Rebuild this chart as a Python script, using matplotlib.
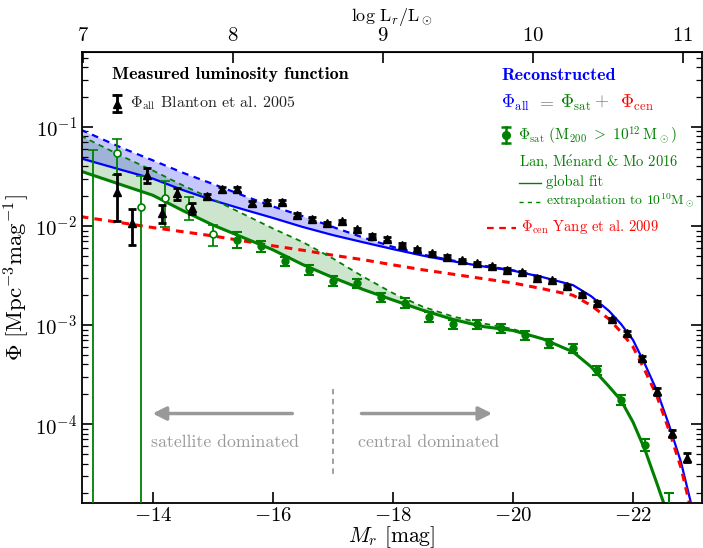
import numpy as np
import matplotlib
matplotlib.use("Agg")
import matplotlib.pyplot as plt
from matplotlib.ticker import NullLocator

plt.rcParams['font.family'] = 'serif'
plt.rcParams['font.serif'] = ['cmr10']
plt.rcParams['mathtext.fontset'] = 'cm'
plt.rcParams['axes.formatter.use_mathtext'] = True

M_SUN = 4.67

# Blanton et al. 2005, all galaxies
m_all = [-13.4, -13.65, -13.9, -14.15, -14.4, -14.65, -14.9, -15.15, -15.4, -15.65,
         -15.9, -16.15, -16.4, -16.65, -16.9, -17.15, -17.4, -17.65, -17.9, -18.15,
         -18.4, -18.65, -18.9, -19.15, -19.4, -19.65, -19.9, -20.15, -20.4, -20.65,
         -20.9, -21.15, -21.4, -21.65, -21.9, -22.15, -22.4, -22.65, -22.9]
phi_all = [0.0222, 0.0106, 0.0327, 0.0135, 0.0214, 0.0151, 0.0200, 0.0234, 0.0234, 0.0170,
           0.0176, 0.0176, 0.0129, 0.0118, 0.0106, 0.0112, 0.0093, 0.0080, 0.0074, 0.00645,
           0.00582, 0.0053, 0.0049, 0.00454, 0.0042, 0.0039, 0.00363, 0.0034, 0.0030, 0.00285,
           0.00245, 0.00205, 0.00168, 0.00114, 0.00083, 0.00046, 0.000215, 0.000081, 0.000046]
err_all = [0.011, 0.0042, 0.0055, 0.0027, 0.003, 0.002, 0.0012, 0.0013, 0.0013, 0.0010,
           0.0009, 0.0009, 0.0006, 0.0005, 0.0004, 0.0004, 0.00035, 0.0003, 0.00028, 0.00024,
           0.0002, 0.00018, 0.00016, 0.00015, 0.00014, 0.00013, 0.00012, 0.00011, 0.0001, 0.0001,
           0.00009, 0.00008, 0.00007, 0.00005, 0.00004, 0.00003, 0.000016, 0.0000065, 0.0000048]

# Lan, Menard & Mo 2016 satellites, faint end (open) and main sample (filled)
m_sat_faint = [-13.0, -13.4, -13.8, -14.2, -14.6, -15.0]
phi_sat_faint = [0.0, 0.0542, 0.0155, 0.019, 0.0155, 0.0083]
err_sat_faint = [0.0586, 0.0215, 0.0165, 0.0092, 0.004, 0.002]

m_sat = [-15.4, -15.8, -16.2, -16.6, -17.0, -17.4, -17.8, -18.2, -18.6, -19.0,
         -19.4, -19.8, -20.2, -20.6, -21.0, -21.4, -21.8, -22.2, -22.6]
phi_sat = [0.0073, 0.0063, 0.0044, 0.0036, 0.0028, 0.00264, 0.0019, 0.00168, 0.00121, 0.00102,
           0.00102, 0.00093, 0.00079, 0.00066, 0.00058, 0.00035, 0.000175, 0.000062, 0.000008]
err_sat = [0.0013, 0.0008, 0.0005, 0.0004, 0.0003, 0.0003, 0.0002, 0.00018, 0.00013, 0.00011,
           0.0001, 0.0001, 0.00008, 0.00007, 0.00006, 0.00004, 0.00002, 0.000009, 0.000012]

# model curves
m_curve = [-12.8, -13.5, -14.0, -14.5, -15.0, -15.5, -16.0, -16.5, -17.0, -17.5,
           -18.0, -18.5, -19.0, -19.5, -20.0, -20.5, -21.0, -21.3, -21.6, -21.8,
           -22.0, -22.2, -22.4, -22.6, -22.8, -23.0]
phi_cen = [0.01242, 0.01072, 0.00964, 0.00875, 0.00794, 0.00708, 0.00631, 0.00569, 0.00507, 0.00457,
           0.00405, 0.00361, 0.00326, 0.00294, 0.00266, 0.00232, 0.00200, 0.00158, 0.00115, 0.000851,
           0.000603, 0.000347, 0.000191, 0.0000871, 0.0000363, 0.0000112]
phi_sat_fit = [0.03573, 0.02576, 0.02042, 0.01429, 0.01023, 0.00767, 0.00575, 0.00407, 0.00302, 0.00229,
               0.00179, 0.00141, 0.00114, 0.000966, 0.000881, 0.000724, 0.000537, 0.00038, 0.00024, 0.000174,
               0.000105, 0.000055, 0.0000251, 0.0000112, 0.000005, 0.000002]
phi_all_fit = [0.04815, 0.03648, 0.03006, 0.02304, 0.01817, 0.01475, 0.01206, 0.00976, 0.00809, 0.00686,
               0.00584, 0.00502, 0.00440, 0.00391, 0.00354, 0.00304, 0.00253, 0.00196, 0.00139, 0.001025,
               0.000708, 0.000402, 0.000216, 0.0000983, 0.0000413, 0.0000132]

m_ext = [-12.8, -13.5, -14.0, -14.5, -15.0, -15.5, -16.0, -16.5, -17.0, -17.5,
         -18.0, -18.5, -19.0, -19.5, -20.0, -20.5]
phi_sat_ext = [0.08128, 0.05012, 0.03631, 0.02570, 0.01862, 0.01327, 0.00944, 0.00687, 0.00470, 0.00309,
               0.00210, 0.00153, 0.00122, 0.00104, 0.000912, 0.000724]
phi_all_ext = [0.0937, 0.06084, 0.04595, 0.03445, 0.02656, 0.02035, 0.01575, 0.01256, 0.00977, 0.00766,
               0.00615, 0.00514, 0.00448, 0.00398, 0.00357, 0.00304]


def ax_pos(px, py):
    return ((px - 82) / 620.0, (503 - py) / 451.0)


fig = plt.figure(figsize=(7.03, 5.48), dpi=100)
ax = fig.add_axes([82 / 703, 45 / 548, 620 / 703, 451 / 548])
ax.set_yscale('log')

n_ext = len(m_ext)
ax.fill_between(m_ext, phi_sat_fit[:n_ext], phi_sat_ext, color='green', alpha=0.2, lw=0, zorder=1)
ax.fill_between(m_ext, phi_all_fit[:n_ext], phi_all_ext, color='blue', alpha=0.22, lw=0, zorder=1)

ax.plot(m_curve, phi_all_fit, color='blue', lw=1.6, zorder=2)
ax.plot(m_ext, phi_all_ext, color='blue', lw=1.6, ls=(0, (3, 2.5)), zorder=2)
ax.plot(m_curve, phi_cen, color='red', lw=2.2, ls=(0, (2.5, 2)), zorder=2)
ax.plot(m_curve, phi_sat_fit, color='green', lw=2.2, zorder=2)
ax.plot(m_ext, phi_sat_ext, color='green', lw=1.3, ls=(0, (3, 2.5)), zorder=2)

ax.errorbar(m_sat_faint, phi_sat_faint, yerr=err_sat_faint, fmt='o', color='green', mfc='white',
            mec='green', ms=5, mew=1.2, elinewidth=1.3, capsize=3.5, capthick=1.3, zorder=3)
ax.errorbar(m_sat, phi_sat, yerr=err_sat, fmt='o', color='green', ms=5, elinewidth=1.5,
            capsize=3.5, capthick=1.5, zorder=3)
ax.errorbar(m_all, phi_all, yerr=err_all, fmt='^', color='black', ms=6, elinewidth=2,
            capsize=3.2, capthick=2, zorder=4)

ax.set_xlim(-12.82, -23.15)
ax.set_ylim(1.6e-5, 0.57)
ax.set_xticks([-14, -16, -18, -20, -22])
ax.xaxis.set_minor_locator(NullLocator())
ax.tick_params(which='both', direction='in', right=True, top=False, labelsize=15)
ax.tick_params(which='major', length=8, width=1.2)
ax.tick_params(which='minor', length=4, width=0.9)
ax.tick_params(axis='x', pad=3)
for s in ax.spines.values():
    s.set_linewidth(1.3)

ax.set_xlabel(r'$M_r$ [mag]', fontsize=15.5, labelpad=-1)
ax.set_ylabel(r'$\Phi\ [{\rm Mpc}^{-3}{\rm mag}^{-1}]$', fontsize=16.5, labelpad=2)

sec = ax.secondary_xaxis('top', functions=(lambda m: (M_SUN - m) / 2.5,
                                           lambda l: M_SUN - 2.5 * l))
sec.set_xticks([7, 8, 9, 10, 11])
sec.xaxis.set_minor_locator(NullLocator())
sec.tick_params(direction='in', length=8, width=1.2, labelsize=15, pad=5)
sec.set_xlabel(r'$\log\,{\rm L}_r/{\rm L}_\odot$', fontsize=13, labelpad=4)

# satellite / central regions
grey = '#999999'
ax.annotate('', xy=(-13.95, 1.28e-4), xytext=(-16.37, 1.28e-4),
            arrowprops=dict(arrowstyle='-|>', color=grey, lw=2.5, mutation_scale=20))
ax.annotate('', xy=(-19.7, 1.28e-4), xytext=(-17.43, 1.28e-4),
            arrowprops=dict(arrowstyle='-|>', color=grey, lw=2.5, mutation_scale=20))
ax.plot([-17.0, -17.0], [2.26e-4, 2.94e-5], color=grey, lw=1.3, ls=(0, (3, 2.5)))
ax.text(-15.2, 6.6e-5, 'satellite dominated', color=grey, fontsize=12.8, ha='center', va='center')
ax.text(-18.6, 6.6e-5, 'central dominated', color=grey, fontsize=12.8, ha='center', va='center')

# key, left block
tr = ax.transAxes
ax.text(*ax_pos(112, 75), 'Measured luminosity function', fontfamily='cmb10', fontsize=13,
        transform=tr, va='center')
x0, y0 = ax_pos(117, 95)
x1, y1 = ax_pos(117, 112)
ax.plot([x0, x1], [y0, y1], color='black', lw=2, transform=tr, clip_on=False)
ax.plot([x0, x1], [y0, y1], ls='none', marker='_', ms=7, mew=2, color='black', transform=tr)
ax.plot(*ax_pos(117, 104), marker='^', ms=6, color='black', transform=tr)
ax.text(*ax_pos(130, 103), r'$\Phi_{\rm all}$ Blanton et al. 2005', fontsize=11.5,
        transform=tr, va='center', color='#222222')

# key, right block
ax.text(*ax_pos(501, 75), 'Reconstructed', fontfamily='cmb10', fontsize=13, color='blue',
        transform=tr, va='center')
ax.text(*ax_pos(501, 103), r'$\Phi_{\rm all}$', fontsize=13, color='blue', transform=tr, va='center')
ax.text(*ax_pos(536, 101), r'$=$', fontsize=13, color='grey', transform=tr, va='center')
ax.text(*ax_pos(560, 103), r'$\Phi_{\rm sat}$', fontsize=13, color='green', transform=tr, va='center')
ax.text(*ax_pos(594, 101), r'$+$', fontsize=13, color='grey', transform=tr, va='center')
ax.text(*ax_pos(620, 103), r'$\Phi_{\rm cen}$', fontsize=13, color='red', transform=tr, va='center')

x0, y0 = ax_pos(506, 127)
x1, y1 = ax_pos(506, 143)
ax.plot([x0, x1], [y0, y1], color='green', lw=1.8, transform=tr, clip_on=False)
ax.plot([x0, x1], [y0, y1], ls='none', marker='_', ms=7, mew=1.8, color='green', transform=tr)
ax.plot(*ax_pos(506, 135), marker='o', ms=5.5, color='green', transform=tr)
ax.text(*ax_pos(518, 136), r'$\Phi_{\rm sat}\ ({\rm M}_{200}\ >\ 10^{12}\,{\rm M}_\odot)$',
        fontsize=11, color='green', transform=tr, va='center')
ax.text(*ax_pos(519, 162), r'Lan, M$\acute{\rm e}$nard & Mo 2016', fontsize=10.5,
        color='green', transform=tr, va='center')
ax.plot([ax_pos(519, 0)[0], ax_pos(541, 0)[0]], [ax_pos(0, 183)[1]] * 2, color='green', lw=1.0,
        transform=tr)
ax.text(*ax_pos(546, 182), 'global fit', fontsize=10.5, color='green', transform=tr, va='center')
ax.plot([ax_pos(519, 0)[0], ax_pos(541, 0)[0]], [ax_pos(0, 202)[1]] * 2, color='green', lw=1.0,
        ls=(0, (3, 3)), transform=tr)
ax.text(*ax_pos(546, 201), r'extrapolation to 10$^{10}$M$_\odot$', fontsize=9.8, color='green',
        transform=tr, va='center')
ax.plot([ax_pos(487, 0)[0], ax_pos(516, 0)[0]], [ax_pos(0, 228)[1]] * 2, color='red', lw=1.6,
        ls=(0, (3, 2.5)), transform=tr)
ax.text(*ax_pos(521, 227), r'$\Phi_{\rm cen}$ Yang et al. 2009', fontsize=10.5, color='red',
        transform=tr, va='center')

fig.savefig('out.png', dpi=100)
